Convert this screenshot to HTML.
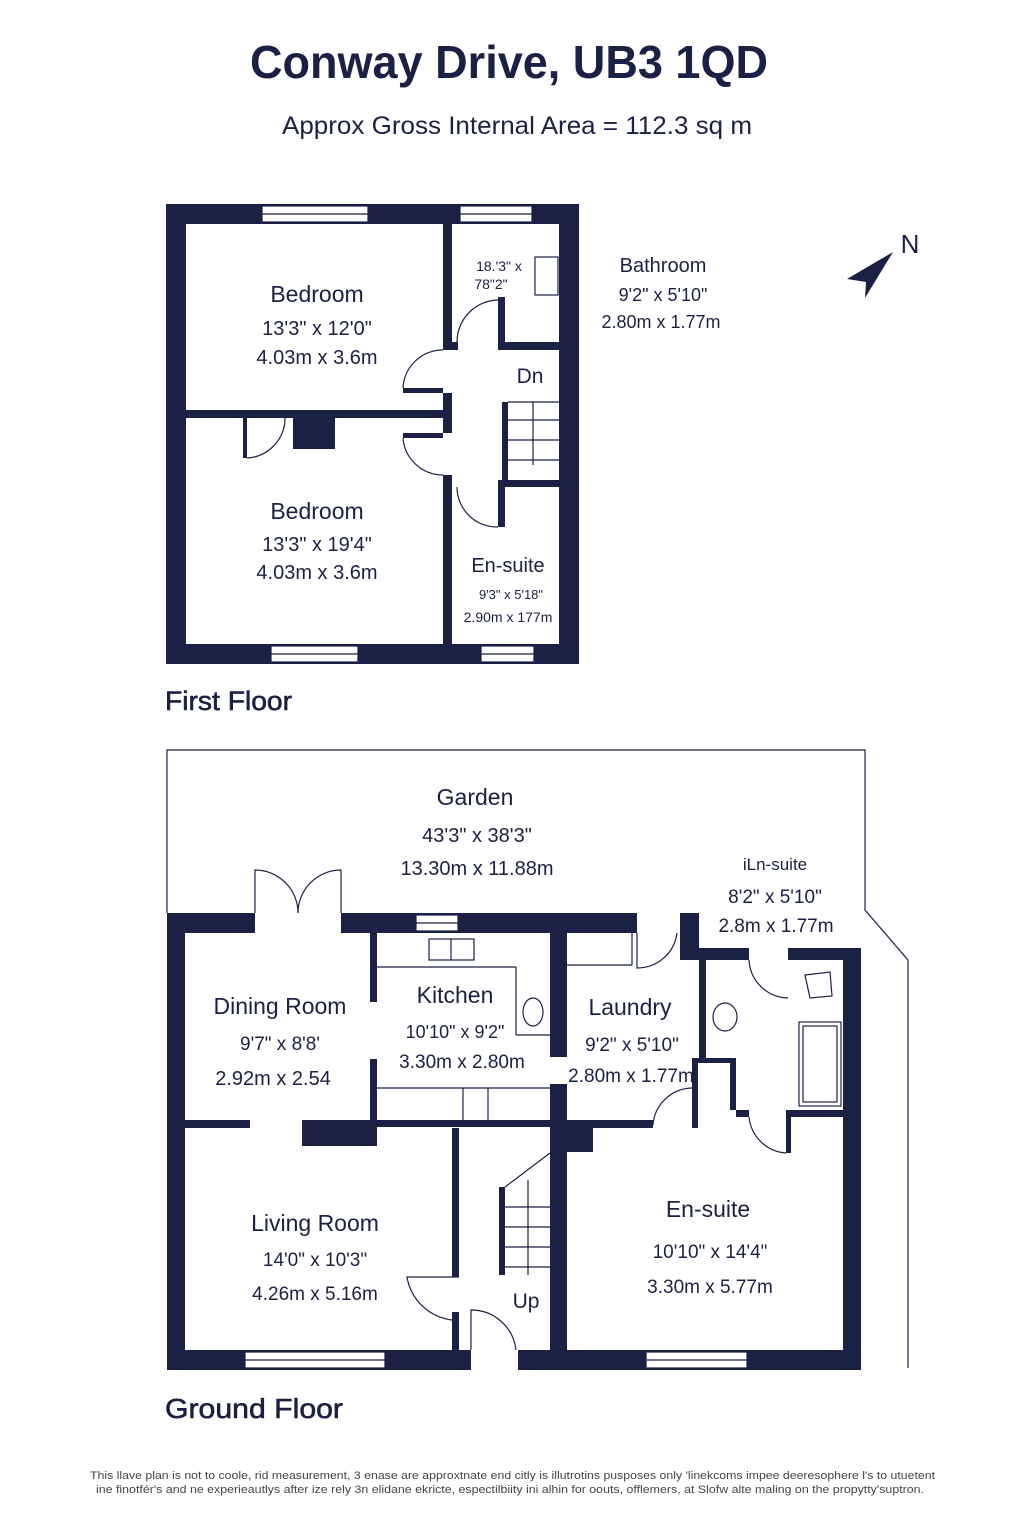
<!DOCTYPE html>
<html><head><meta charset="utf-8"><style>
html,body{margin:0;padding:0;background:#fff;}
body{width:1024px;height:1536px;overflow:hidden;}
svg{display:block;}
text{font-family:"Liberation Sans",sans-serif;fill:#1b2145;}
</style></head><body>
<svg width="1024" height="1536" viewBox="0 0 1024 1536" xmlns="http://www.w3.org/2000/svg">
<g fill="#1b2145">
<rect x="166" y="204" width="413" height="20"/>
<rect x="166" y="644" width="413" height="20"/>
<rect x="166" y="204" width="20" height="460"/>
<rect x="559" y="204" width="20" height="460"/>
<rect x="443" y="224" width="9" height="126"/>
<rect x="443" y="393" width="9" height="40"/>
<rect x="443" y="475" width="9" height="169"/>
<rect x="452" y="342" width="6" height="8"/>
<rect x="403" y="388" width="40" height="5"/>
<rect x="403" y="433" width="40" height="5"/>
<rect x="186" y="410" width="257" height="8"/>
<rect x="243" y="418" width="4" height="40"/>
<rect x="293" y="418" width="42" height="31"/>
<rect x="498" y="297" width="7" height="53"/>
<rect x="498" y="342" width="61" height="8"/>
<rect x="502" y="402" width="6" height="78"/>
<rect x="498" y="480" width="61" height="7"/>
<rect x="498" y="480" width="7" height="47"/>
<rect x="167" y="913" width="88" height="20"/>
<rect x="341" y="913" width="296" height="20"/>
<rect x="680" y="913" width="19" height="35"/>
<rect x="680" y="948" width="69" height="12"/>
<rect x="788" y="948" width="73" height="12"/>
<rect x="843" y="948" width="18" height="421"/>
<rect x="167" y="913" width="18" height="456"/>
<rect x="167" y="1350" width="304" height="20"/>
<rect x="518" y="1350" width="343" height="20"/>
<rect x="370" y="932" width="7" height="70"/>
<rect x="370" y="1059" width="7" height="61"/>
<rect x="167" y="1120" width="83" height="8"/>
<rect x="302" y="1120" width="75" height="26"/>
<rect x="377" y="1120" width="173" height="7"/>
<rect x="550" y="932" width="17" height="125"/>
<rect x="550" y="1084" width="17" height="286"/>
<rect x="567" y="1128" width="26" height="24"/>
<rect x="567" y="1120" width="86" height="8"/>
<rect x="699" y="948" width="7" height="110"/>
<rect x="692" y="1058" width="44" height="5"/>
<rect x="692" y="1058" width="6" height="70"/>
<rect x="730" y="1058" width="6" height="52"/>
<rect x="736" y="1110" width="13" height="7"/>
<rect x="786" y="1110" width="75" height="7"/>
<rect x="786" y="1110" width="5" height="43"/>
<rect x="452" y="1128" width="7" height="149"/>
<rect x="452" y="1312" width="7" height="38"/>
<rect x="499" y="1187" width="6" height="88"/>
<polygon points="893,252 847,279 866,282 865,298"/>
</g>
<g fill="#fff" stroke="#1b2145" stroke-width="1.2">
<rect x="262" y="206" width="106" height="16"/><line x1="262" y1="214" x2="368" y2="214"/>
<rect x="460" y="206" width="72" height="16"/><line x1="460" y1="214" x2="532" y2="214"/>
<rect x="271" y="646" width="87" height="16"/><line x1="271" y1="654" x2="358" y2="654"/>
<rect x="481" y="646" width="53" height="16"/><line x1="481" y1="654" x2="534" y2="654"/>
<rect x="416" y="915" width="42" height="16"/><line x1="416" y1="923" x2="458" y2="923"/>
<rect x="245" y="1352" width="140" height="16"/><line x1="245" y1="1360" x2="385" y2="1360"/>
<rect x="646" y="1352" width="101" height="16"/><line x1="646" y1="1360" x2="747" y2="1360"/>
</g>
<g fill="none" stroke="#1b2145" stroke-width="1.2">
<polyline points="167,913 167,750 865,750 865,910 908,960 908,1368"/>
<path d="M457,342 A42,42 0 0 1 498,300"/>
<path d="M443,350 A40,40 0 0 0 403,388"/>
<path d="M443,475 A40,40 0 0 1 403,438"/>
<path d="M457,487 A40,40 0 0 0 498,527"/>
<path d="M247,458 A40,40 0 0 0 285,418"/>
<rect x="535" y="257" width="23" height="38"/>
<line x1="508" y1="402" x2="559" y2="402"/>
<line x1="508" y1="420" x2="559" y2="420"/><line x1="508" y1="440" x2="559" y2="440"/><line x1="508" y1="460" x2="559" y2="460"/>
<line x1="533" y1="402" x2="533" y2="465"/>
<path d="M255,913 L255,870 A43,43 0 0 1 298,913"/>
<path d="M341,913 L341,870 A43,43 0 0 0 298,913"/>
<path d="M637,933 L637,968 A40,40 0 0 0 677,933"/>
<path d="M749,960 A40,40 0 0 0 788,998"/>
<path d="M749,1117 A40,40 0 0 0 786,1153"/>
<path d="M653,1125 A40,40 0 0 1 692,1088"/>
<path d="M459,1277 L407,1277 A52,52 0 0 0 452,1320"/>
<path d="M471,1350 L471,1310 A45,45 0 0 1 516,1350"/>
<line x1="377" y1="967" x2="516" y2="967"/><line x1="516" y1="967" x2="516" y2="1035"/><line x1="516" y1="1035" x2="550" y2="1035"/>
<line x1="567" y1="965" x2="632" y2="965"/><line x1="632" y1="932" x2="632" y2="965"/>
<line x1="377" y1="1088" x2="550" y2="1088"/><line x1="463" y1="1088" x2="463" y2="1120"/><line x1="488" y1="1088" x2="488" y2="1120"/>
<rect x="429" y="939" width="45" height="21"/><line x1="451" y1="939" x2="451" y2="960"/>
<ellipse cx="533" cy="1012" rx="10" ry="14"/>
<ellipse cx="725" cy="1017" rx="12" ry="14"/>
<rect x="799" y="1022" width="42" height="84"/><rect x="803" y="1026" width="34" height="76"/>
<path d="M805,975 L830,972 L832,996 L810,998 Z"/>
<line x1="505" y1="1187" x2="550" y2="1153"/>
<line x1="505" y1="1207" x2="550" y2="1207"/><line x1="505" y1="1227" x2="550" y2="1227"/><line x1="505" y1="1247" x2="550" y2="1247"/><line x1="505" y1="1267" x2="550" y2="1267"/>
<line x1="528" y1="1180" x2="528" y2="1275"/>
</g>
<text x="250" y="78" font-size="46" font-weight="bold" textLength="518" lengthAdjust="spacingAndGlyphs">Conway Drive, UB3 1QD</text>
<text x="282" y="134" font-size="25" textLength="470" lengthAdjust="spacingAndGlyphs">Approx Gross Internal Area = 112.3 sq m</text>
<g text-anchor="middle">
<text x="317" y="302" font-size="23">Bedroom</text>
<text x="317" y="335" font-size="20">13'3" x 12'0"</text>
<text x="317" y="364" font-size="20">4.03m x 3.6m</text>
<text x="317" y="519" font-size="23">Bedroom</text>
<text x="317" y="551" font-size="20">13'3" x 19'4"</text>
<text x="317" y="579" font-size="20">4.03m x 3.6m</text>
<text x="530" y="383" font-size="21">Dn</text>
<text x="508" y="572" font-size="20">En-suite</text>
<text x="511" y="599" font-size="13">9'3" x 5'18"</text>
<text x="508" y="622" font-size="14">2.90m x 177m</text>
<text x="499" y="271" font-size="14">18.'3" x</text>
<text x="491" y="289" font-size="14">78"2"</text>
<text x="663" y="272" font-size="20">Bathroom</text>
<text x="663" y="301" font-size="18">9'2" x 5'10"</text>
<text x="661" y="328" font-size="18">2.80m x 1.77m</text>
<text x="910" y="253" font-size="26">N</text>
<text x="475" y="805" font-size="23">Garden</text>
<text x="477" y="842" font-size="20">43'3" x 38'3"</text>
<text x="477" y="875" font-size="20">13.30m x 11.88m</text>
<text x="775" y="870" font-size="17">iLn-suite</text>
<text x="775" y="903" font-size="19">8'2" x 5'10"</text>
<text x="776" y="932" font-size="19">2.8m x 1.77m</text>
<text x="280" y="1014" font-size="23">Dining Room</text>
<text x="280" y="1050" font-size="19">9'7" x 8'8'</text>
<text x="273" y="1085" font-size="20">2.92m x 2.54</text>
<text x="455" y="1003" font-size="23">Kitchen</text>
<text x="455" y="1038" font-size="18">10'10" x 9'2"</text>
<text x="462" y="1068" font-size="19">3.30m x 2.80m</text>
<text x="630" y="1015" font-size="23">Laundry</text>
<text x="632" y="1051" font-size="19">9'2" x 5'10"</text>
<text x="631" y="1082" font-size="19">2.80m x 1.77m</text>
<text x="315" y="1231" font-size="23">Living Room</text>
<text x="315" y="1266" font-size="19">14'0" x 10'3"</text>
<text x="315" y="1300" font-size="19">4.26m x 5.16m</text>
<text x="526" y="1308" font-size="21">Up</text>
<text x="708" y="1217" font-size="23">En-suite</text>
<text x="710" y="1258" font-size="19">10'10" x 14'4"</text>
<text x="710" y="1293" font-size="19">3.30m x 5.77m</text>
</g>
<text x="165" y="710" font-size="27" stroke="#1b2145" stroke-width="0.6" textLength="127" lengthAdjust="spacingAndGlyphs">First Floor</text>
<text x="165" y="1418" font-size="28" stroke="#1b2145" stroke-width="0.6" textLength="178" lengthAdjust="spacingAndGlyphs">Ground Floor</text>
<text x="90" y="1479" font-size="11" style="fill:#444" textLength="845" lengthAdjust="spacingAndGlyphs">This llave plan is not to coole, rid measurement, 3 enase are approxtnate end citly is illutrotins pusposes only 'linekcoms impee deeresophere l's to utuetent</text>
<text x="96" y="1493" font-size="11" style="fill:#444" textLength="828" lengthAdjust="spacingAndGlyphs">ine finotfér's and ne experieautlys after ize rely 3n elidane ekricte, espectilbiity ini alhin for oouts, offlemers, at Slofw alte maling on the propytty'suptron.</text>
</svg>
</body></html>
